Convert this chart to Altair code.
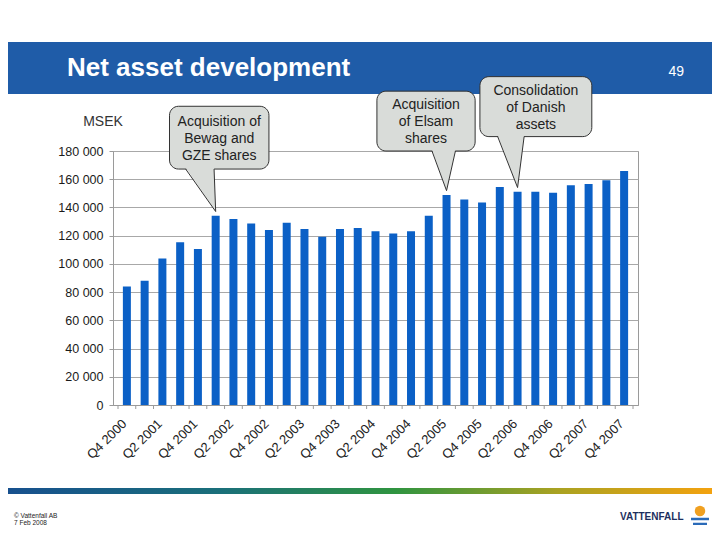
import altair as alt
import pandas as pd

# ---------------- data ----------------
quarters = ["Q4 2000", "Q1 2001", "Q2 2001", "Q3 2001", "Q4 2001", "Q1 2002", "Q2 2002",
            "Q3 2002", "Q4 2002", "Q1 2003", "Q2 2003", "Q3 2003", "Q4 2003", "Q1 2004",
            "Q2 2004", "Q3 2004", "Q4 2004", "Q1 2005", "Q2 2005", "Q3 2005", "Q4 2005",
            "Q1 2006", "Q2 2006", "Q3 2006", "Q4 2006", "Q1 2007", "Q2 2007", "Q3 2007",
            "Q4 2007"]
net_assets = [84000, 88000, 103800, 115300, 110600, 134100, 131800, 128700, 124000,
              129200, 124700, 119300, 124700, 125400, 123100, 121600, 123100, 134100,
              148900, 145600, 143500, 154400, 151100, 151100, 150400, 155800, 156700,
              159300, 165900]
y_ticks = [0, 20000, 40000, 60000, 80000, 100000, 120000, 140000, 160000, 180000]

callout_text = ["Acquisition of\nBewag and\nGZE shares",
                "Acquisition\nof Elsam\nshares",
                "Consolidation\nof Danish\nassets"]
callout_target = [5, 18, 22]            # index of the bar pointed at
box_left = [2.40, 14.08, 19.88]         # in bar-index units
box_right = [8.00, 19.61, 26.18]
box_top = [211700, 222400, 232700]      # in MSEK units
box_bottom = [167200, 180000, 190200]
ptr_left = [3.31, 17.18, 20.88]
ptr_right = [4.91, 18.50, 22.37]
tip_gap = 3000

# ---------------- derived tables ----------------
n = len(quarters)
bars_df = pd.DataFrame({"idx": list(range(n)), "quarter": quarters, "msek": net_assets})
bounds_df = pd.DataFrame({"b": [i - 0.5 for i in range(n + 1)]})
label_idx = [i for i, q in enumerate(quarters) if q[:2] in ("Q2", "Q4")]
label_js = "[" + ",".join("'" + q + "'" for q in quarters) + "][datum.value]"

box_df = pd.DataFrame({
    "id": list(range(3)),
    "bx0": box_left, "bx1": box_right, "by0": box_bottom, "by1": box_top,
    "tx": [(a + b) / 2 for a, b in zip(box_left, box_right)],
    "ty": [(a + b) / 2 for a, b in zip(box_top, box_bottom)],
    "label": callout_text,
})

area_rows, line_rows = [], []
for i in range(3):
    t = callout_target[i]
    tipv = net_assets[t] + tip_gap
    area_rows.append({"id": i, "py": box_bottom[i] + 900, "pxl": ptr_left[i], "pxr": ptr_right[i]})
    area_rows.append({"id": i, "py": tipv, "pxl": t, "pxr": t})
    for s, base in (("l", ptr_left[i]), ("r", ptr_right[i])):
        line_rows.append({"seg": f"{i}{s}", "o": 0, "lx": base, "ly": box_bottom[i]})
        line_rows.append({"seg": f"{i}{s}", "o": 1, "lx": t, "ly": tipv})
area_df = pd.DataFrame(area_rows)
line_df = pd.DataFrame(line_rows)

one = alt.Data(values=[{}])
FONT = "Liberation Sans"
GRAY = "#9a9a9a"

# ---------------- scales & axes (shared by every layer) ----------------
y_scale = alt.Scale(domain=[0, 180000], nice=False, zero=True)
x_scale = alt.Scale(domain=[-0.5, n - 0.5], nice=False, zero=False)
x_axis = alt.Axis(title=None, values=label_idx, labelExpr=label_js,
                  labelAngle=-45, labelAlign="right", labelBaseline="top",
                  labelOffset=-7, ticks=False, grid=False,
                  labelFontSize=13, labelColor="#222222", labelFont=FONT,
                  domainColor=GRAY, labelPadding=12, labelFlush=False,
                  labelOverlap=False)
y_axis = alt.Axis(title=None, values=y_ticks,
                  labelExpr="replace(format(datum.value, ','), ',', ' ')",
                  labelFontSize=12.5, labelColor="#1a1a1a", labelFont=FONT,
                  domainColor=GRAY, tickColor=GRAY, tickSize=4,
                  gridColor="#a8a8a8", labelPadding=6)

# ---------------- decoration ----------------
header = alt.Chart(one).mark_rect(color="#1f5ca8").encode(
    x=alt.value(-105), x2=alt.value(599), y=alt.value(-109), y2=alt.value(-57))
title = alt.Chart(one).mark_text(font=FONT, fontSize=26, fontWeight="bold", color="white",
                                 align="left", baseline="alphabetic").encode(
    x=alt.value(-46), y=alt.value(-75), text=alt.value("Net asset development"))
page_no = alt.Chart(one).mark_text(font=FONT, fontSize=14, color="white",
                                   align="right", baseline="alphabetic").encode(
    x=alt.value(571), y=alt.value(-75), text=alt.value("49"))
unit = alt.Chart(one).mark_text(font=FONT, fontSize=14, color="#333333",
                                align="center", baseline="alphabetic").encode(
    x=alt.value(-10), y=alt.value(-25), text=alt.value("MSEK"))

footer_bar = alt.Chart(one).mark_rect(
    fill=alt.Gradient(gradient="linear", x1=0, x2=1, y1=0, y2=0,
                      stops=[alt.GradientStop(offset=0, color="#17508e"),
                             alt.GradientStop(offset=0.3, color="#1a6f7a"),
                             alt.GradientStop(offset=0.55, color="#2f9440"),
                             alt.GradientStop(offset=0.78, color="#a9a222"),
                             alt.GradientStop(offset=1, color="#f3a20f")])).encode(
    x=alt.value(-105), x2=alt.value(599), y=alt.value(337), y2=alt.value(343))
foot1 = alt.Chart(one).mark_text(font=FONT, fontSize=6.5, color="#222222", align="left",
                                 baseline="middle").encode(
    x=alt.value(-99), y=alt.value(365), text=alt.value("© Vattenfall AB"))
foot2 = alt.Chart(one).mark_text(font=FONT, fontSize=6.5, color="#222222", align="left",
                                 baseline="middle").encode(
    x=alt.value(-99), y=alt.value(372), text=alt.value("7 Feb 2008"))
brand = alt.Chart(one).mark_text(font=FONT, fontSize=10, fontWeight="bold", color="#1c2f5e",
                                 align="left", baseline="middle").encode(
    x=alt.value(507), y=alt.value(366), text=alt.value("VATTENFALL"))
sun = alt.Chart(one).mark_point(filled=True, shape="circle", size=110, color="#f0a020",
                                opacity=1).encode(x=alt.value(587), y=alt.value(360))
wave1 = alt.Chart(one).mark_rule(color="#2a6ab8", strokeWidth=2.5).encode(
    x=alt.value(578), x2=alt.value(596), y=alt.value(368))
wave2 = alt.Chart(one).mark_rule(color="#2a6ab8", strokeWidth=2.5).encode(
    x=alt.value(580), x2=alt.value(594), y=alt.value(373))

# ---------------- bars ----------------
bars = alt.Chart(bars_df).mark_bar(size=8, color="#0b60c6").encode(
    x=alt.X("idx:Q", scale=x_scale, axis=x_axis),
    y=alt.Y("msek:Q", scale=y_scale, axis=y_axis),
)

x_ticks = alt.Chart(bounds_df).mark_rule(color=GRAY, strokeWidth=1).encode(
    x=alt.X("b:Q", scale=x_scale, axis=x_axis),
    y=alt.value(254), y2=alt.value(258))

# ---------------- callouts ----------------
boxes = alt.Chart(box_df).mark_rect(cornerRadius=9, fill="#d9dcd9", stroke="#333333",
                                    strokeWidth=1).encode(
    x=alt.X("bx0:Q", scale=x_scale, axis=x_axis), x2="bx1:Q",
    y=alt.Y("by0:Q", scale=y_scale, axis=y_axis), y2="by1:Q")
ptr_fill = alt.Chart(area_df).mark_area(orient="horizontal", color="#d9dcd9", opacity=1).encode(
    y=alt.Y("py:Q", scale=y_scale, axis=y_axis),
    x=alt.X("pxl:Q", scale=x_scale, axis=x_axis), x2="pxr:Q",
    detail="id:N")
ptr_lines = alt.Chart(line_df).mark_line(color="#333333", strokeWidth=1).encode(
    x=alt.X("lx:Q", scale=x_scale, axis=x_axis),
    y=alt.Y("ly:Q", scale=y_scale, axis=y_axis),
    detail="seg:N", order="o:Q")
ptr_text = alt.Chart(box_df).mark_text(font=FONT, fontSize=14, lineHeight=17,
                                       lineBreak="\n", color="#222222", dy=-16,
                                       align="center", baseline="middle").encode(
    x=alt.X("tx:Q", scale=x_scale, axis=x_axis),
    y=alt.Y("ty:Q", scale=y_scale, axis=y_axis),
    text="label:N")

chart = alt.layer(
    bars, x_ticks, header, title, page_no, unit, footer_bar, foot1, foot2, brand, sun,
    wave1, wave2, boxes, ptr_fill, ptr_lines, ptr_text
).properties(
    width=525, height=254,
    autosize=alt.AutoSizeParams(type="none"),
    padding={"left": 105, "top": 143, "right": 74, "bottom": 120},
    background="white",
).configure_view(stroke=GRAY)

chart.save("out.html", embed_options={"renderer": "svg", "actions": False})
